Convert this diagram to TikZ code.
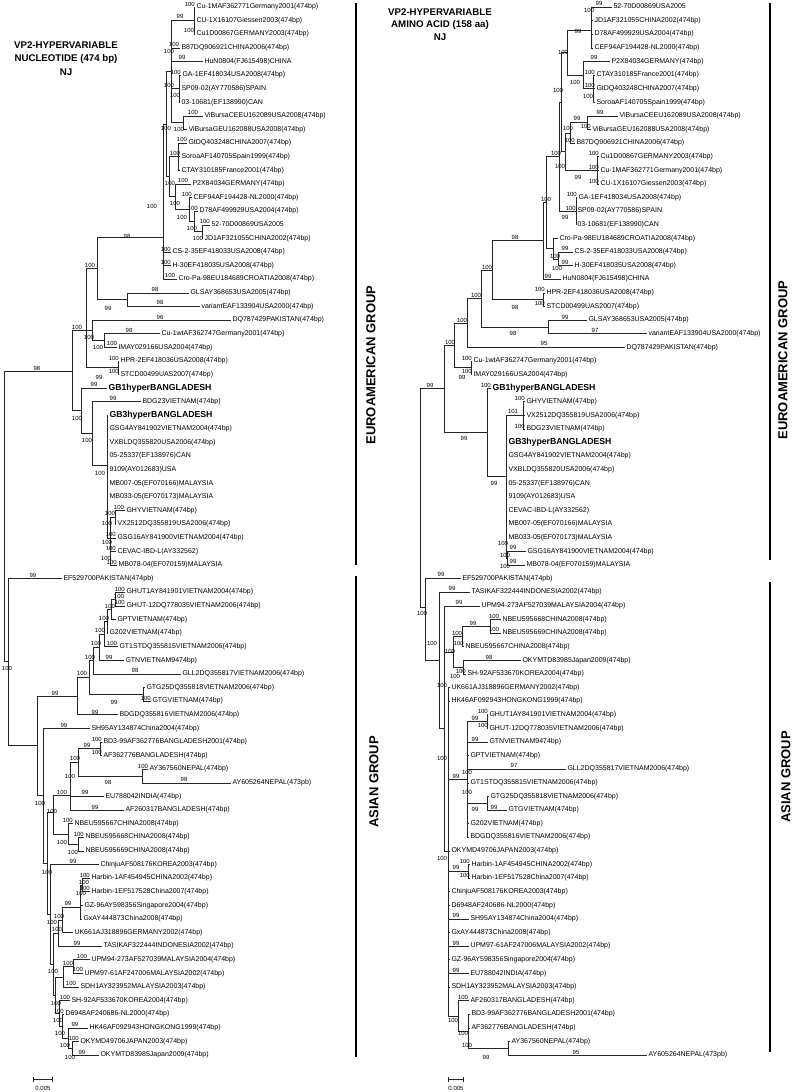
\documentclass[tikz,border=0pt]{standalone}
\usepackage{fontspec}
\setmainfont{Liberation Sans}
\newcounter{bsc}
\newcommand\tleaf[4]{\node[lf] (#1) at (#2,#3) {#4};}
\newcommand\tleafb[4]{\node[lfb] (#1) at (#2,#3) {#4};}
\newcommand\tcoord[3]{\coordinate (#1) at (#2,#3);}
\newcommand\tedge[2]{\foreach \kid in {#2} {\draw[br] (#1) |- (\kid);}}
\newcommand\tboot[3]{\stepcounter{bsc}\node[bs] (bs\arabic{bsc}) at (#1,#2) {#3};}
\newcommand\tbootl[2]{\stepcounter{bsc}\node[bs, anchor=south east] (bs\arabic{bsc}) at ([yshift=0.6pt]#1.west) {#2};}
\tikzset{
 br/.style={draw=black!85, line width=0.55pt},
 lf/.style={anchor=west, inner xsep=1.3pt, inner ysep=0pt, font=\fontsize{7}{8}\selectfont, text height=5pt, text depth=1.5pt},
 lfb/.style={lf, font=\fontsize{8.7}{10}\bfseries\selectfont, text height=6.3pt, text depth=1.8pt},
 bs/.style={inner sep=0pt, font=\fontsize{6}{7}\selectfont},
 grp/.style={rotate=90, inner sep=0pt, font=\fontsize{13}{15}\bfseries\selectfont},
 ttl/.style={align=center, inner sep=0pt, font=\fontsize{9.7}{13.5}\bfseries\selectfont},
 ttlb/.style={align=center, inner sep=0pt, font=\fontsize{9.7}{12.4}\bfseries\selectfont},
 gbar/.style={line width=1.3pt, black},
}
\begin{document}
\begin{tikzpicture}[x=1pt,y=-1pt]
\fill[white] (0,0) rectangle (794,1092);
\useasboundingbox (0,0) rectangle (794,1092);
% ---------------- titles ----------------
\node[ttl] (t1) at (66,58.5) {VP2-HYPERVARIABLE\\NUCLEOTIDE (474 bp)\\NJ};
\node[ttlb] (t2) at (440,24.5) {VP2-HYPERVARIABLE\\AMINO ACID (158 aa)\\NJ};
% ---------------- group labels and bars ----------------
\node[grp] (g1) at (371,365) {EUROAMERICAN GROUP};
\node[grp] (g2) at (374,782) {ASIAN GROUP};
\node[grp] (g3) at (783,360) {EUROAMERICAN GROUP};
\node[grp] (g4) at (786,777) {ASIAN GROUP};
\draw[gbar] (356,3) -- (356,565);
\draw[gbar] (356,576) -- (356,1057);
\draw[gbar] (770,3) -- (770,560);
\draw[gbar] (770,582) -- (770,1052);
% ---------------- scale bars ----------------
\coordinate (sa1) at (33,1079); \coordinate (sa2) at (52,1079);
\draw[br] (sa1) -- (sa2);
\draw[br] ([yshift=-2.5pt]sa1) -- ([yshift=2.5pt]sa1);
\draw[br] ([yshift=-2.5pt]sa2) -- ([yshift=2.5pt]sa2);
\node[bs] (sl1) at (43,1088.5) {0.005};
\coordinate (sb1) at (448,1079); \coordinate (sb2) at (463,1079);
\draw[br] (sb1) -- (sb2);
\draw[br] ([yshift=-2.5pt]sb1) -- ([yshift=2.5pt]sb1);
\draw[br] ([yshift=-2.5pt]sb2) -- ([yshift=2.5pt]sb2);
\node[bs] (sl2) at (456,1088.5) {0.005};
% ================= LEFT TREE: leaves =================
\tleaf{L1}{195}{7.0}{Cu-1MAF362771Germany2001(474bp)}
\tleaf{L2}{195}{20.6}{CU-1X16107Giessen2003(474bp)}
\tleaf{L3}{195}{34.2}{Cu1D00867GERMANY2003(474bp)}
\tleaf{L4}{180}{47.8}{B87DQ906921CHINA2006(474bp)}
\tleaf{L5}{203}{61.4}{HuN0804(FJ615498)CHINA}
\tleaf{L6}{181}{75.1}{GA-1EF418034USA2008(474bp)}
\tleaf{L7}{180}{88.7}{SP09-02(AY770586)SPAIN}
\tleaf{L8}{180}{102.3}{03-10681(EF138990)CAN}
\tleaf{L9}{203}{115.9}{ViBursaCEEU162089USA2008(474bp)}
\tleaf{L10}{187}{129.5}{ViBursaGEU162088USA2008(474bp)}
\tleaf{L11}{187}{143.1}{GtDQ403248CHINA2007(474bp)}
\tleaf{L12}{180}{156.7}{SoroaAF140705Spain1999(474bp)}
\tleaf{L13}{180}{170.3}{CTAY310185France2001(474bp)}
\tleaf{L14}{191}{183.9}{P2X84034GERMANY(474bp)}
\tleaf{L15}{192}{197.5}{CEF94AF194428-NL2000(474bp)}
\tleaf{L16}{198}{211.2}{D78AF499929USA2004(474bp)}
\tleaf{L17}{210}{224.8}{52-70D00869USA2005}
\tleaf{L18}{203}{238.4}{JD1AF321055CHINA2002(474bp)}
\tleaf{L19}{171}{252.0}{CS-2-35EF418033USA2008(474bp)}
\tleaf{L20}{171}{265.6}{H-30EF418035USA2008(474bp)}
\tleaf{L21}{177}{279.2}{Cro-Pa-98EU184689CROATIA2008(474bp)}
\tleaf{L22}{189}{292.8}{GLSAY368653USA2005(474bp)}
\tleaf{L23}{200}{306.4}{variantEAF133904USA2000(474bp)}
\tleaf{L24}{231}{320.0}{DQ787429PAKISTAN(474bp)}
\tleaf{L25}{160}{333.6}{Cu-1wtAF362747Germany2001(474bp)}
\tleaf{L26}{117}{347.3}{IMAY029166USA2004(474bp)}
\tleaf{L27}{119}{360.9}{HPR-2EF418036USA2008(474bp)}
\tleaf{L28}{119}{374.5}{STCD00499UAS2007(474bp)}
\tleafb{L29}{107}{388.1}{GB1hyperBANGLADESH}
\tleaf{L30}{141}{401.7}{BDG23VIETNAM(474bp)}
\tleafb{L31}{108}{415.3}{GB3hyperBANGLADESH}
\tleaf{L32}{108}{428.9}{GSG4AY841902VIETNAM2004(474bp)}
\tleaf{L33}{108}{442.5}{VXBLDQ355820USA2006(474bp)}
\tleaf{L34}{108}{456.1}{05-25337(EF138976)CAN}
\tleaf{L35}{108}{469.7}{9109(AY012683)USA}
\tleaf{L36}{108}{483.4}{MB007-05(EF070166)MALAYSIA}
\tleaf{L37}{108}{497.0}{MB033-05(EF070173)MALAYSIA}
\tleaf{L38}{125}{510.6}{GHYVIETNAM(474bp)}
\tleaf{L39}{116}{524.2}{VX2512DQ355819USA2006(474bp)}
\tleaf{L40}{116}{537.8}{GSG16AY841900VIETNAM2004(474bp)}
\tleaf{L41}{116}{551.4}{CEVAC-IBD-L(AY332562)}
\tleaf{L42}{117}{565.0}{MB078-04(EF070159)MALAYSIA}
\tleaf{L43}{62}{578.6}{EF529700PAKISTAN(474pb)}
\tleaf{L44}{125}{592.2}{GHUT1AY841901VIETNAM2004(474bp)}
\tleaf{L45}{125}{605.8}{GHUT-12DQ778035VIETNAM2006(474bp)}
\tleaf{L46}{116}{619.5}{GPTVIETNAM(474bp)}
\tleaf{L47}{108}{633.1}{G202VIETNAM(474bp)}
\tleaf{L48}{118}{646.7}{GT1STDQ355815VIETNAM2006(474bp)}
\tleaf{L49}{124}{660.3}{GTNVIETNAM9474bp)}
\tleaf{L50}{181}{673.9}{GLL2DQ355817VIETNAM2006(474bp)}
\tleaf{L51}{145}{687.5}{GTG25DQ355818VIETNAM2006(474bp)}
\tleaf{L52}{151}{701.1}{GTGVIETNAM(474bp)}
\tleaf{L53}{118}{714.7}{BDGDQ355816VIETNAM2006(474bp)}
\tleaf{L54}{90}{728.3}{SH95AY134874China2004(474bp)}
\tleaf{L55}{102}{741.9}{BD3-99AF362776BANGLADESH2001(474bp)}
\tleaf{L56}{102}{755.5}{AF362776BANGLADESH(474bp)}
\tleaf{L57}{148}{769.2}{AY367560NEPAL(474bp)}
\tleaf{L58}{231}{782.8}{AY605264NEPAL(473pb)}
\tleaf{L59}{104}{796.4}{EU788042INDIA(474bp)}
\tleaf{L60}{124}{810.0}{AF260317BANGLADESH(474bp)}
\tleaf{L61}{73}{823.6}{NBEU595667CHINA2008(474bp)}
\tleaf{L62}{84}{837.2}{NBEU595668CHINA2008(474bp)}
\tleaf{L63}{84}{850.8}{NBEU595669CHINA2008(474bp)}
\tleaf{L64}{99}{864.4}{ChinjuAF508176KOREA2003(474bp)}
\tleaf{L65}{90}{878.0}{Harbin-1AF454945CHINA2002(474bp)}
\tleaf{L66}{90}{891.7}{Harbin-1EF517528China2007(474bp)}
\tleaf{L67}{83}{905.3}{GZ-96AY598356Singapore2004(474bp)}
\tleaf{L68}{82}{918.9}{GxAY444873China2008(474bp)}
\tleaf{L69}{73}{932.5}{UK661AJ318896GERMANY2002(474bp)}
\tleaf{L70}{102}{946.1}{TASIKAF322444INDONESIA2002(474bp)}
\tleaf{L71}{90}{959.7}{UPM94-273AF527039MALAYSIA2004(474bp)}
\tleaf{L72}{83}{973.3}{UPM97-61AF247006MALAYSIA2002(474bp)}
\tleaf{L73}{79}{986.9}{SDH1AY323952MALAYSIA2003(474bp)}
\tleaf{L74}{70}{1000.5}{SH-92AF533670KOREA2004(474bp)}
\tleaf{L75}{64}{1014.1}{D6948AF240686-NL2000(474bp)}
\tleaf{L76}{88}{1027.8}{HK46AF092943HONGKONG1999(474bp)}
\tleaf{L77}{79}{1041.4}{OKYMD49706JAPAN2003(474bp)}
\tleaf{L78}{99}{1055.0}{OKYMTD83985Japan2009(474bp)}
% ---------------- left internal nodes ----------------
\tcoord{LR}{4}{517} \tcoord{LE}{72}{371} \tcoord{LA}{8}{661}
\tcoord{Ln86}{86}{330} \tcoord{Ln97}{97}{268} \tcoord{Lmain}{163}{237}
\tcoord{LnX}{166}{124} \tcoord{Ltop}{171}{71.6} \tcoord{Lcu}{194}{20.6}
\tcoord{Lga}{179}{88.7} \tcoord{Lvb}{183}{122.7} \tcoord{LnY}{169}{176.7}
\tcoord{Lgt}{178}{156.7} \tcoord{Lp2x}{175}{196.7} \tcoord{Lcef}{189}{209.5}
\tcoord{Ld78}{194}{221.4} \tcoord{Ln52}{202}{231.6} \tcoord{Ln127}{127}{299.6}
\tcoord{Ln92}{92}{330} \tcoord{Ln104}{104}{340.4} \tcoord{Ln118}{118}{367.7}
\tcoord{Ln81}{81}{410} \tcoord{Ln92b}{92}{433} \tcoord{Ln107}{107}{465}
\tcoord{Ln110}{110}{538} \tcoord{Lghy}{115}{517.4}
\tcoord{LP37}{37}{745} \tcoord{LvI}{77}{696} \tcoord{LvH}{89}{677.4}
\tcoord{LvF}{93}{660.5} \tcoord{LvE}{99}{647} \tcoord{LvD}{104}{634}
\tcoord{LvC}{107}{621.2} \tcoord{LvB}{111}{609.4} \tcoord{LvA}{115}{599}
\tcoord{LvG}{143}{694.3} \tcoord{LP43}{43}{795} \tcoord{Ln47}{47}{863}
\tcoord{LnNB}{53}{812} \tcoord{Ln70}{70}{795} \tcoord{Ln78}{78}{762}
\tcoord{Lnbd}{100}{748.7} \tcoord{Lnay}{142}{776} \tcoord{Ln68}{68}{834}
\tcoord{Lnnb2}{78}{844} \tcoord{LnChin}{50}{914} \tcoord{LnmidA}{53}{964}
\tcoord{Lntas}{58}{933} \tcoord{Lnuk}{62}{920} \tcoord{Lnharb}{80}{907}
\tcoord{Lnh}{82}{884.8} \tcoord{LnlowA}{55}{995} \tcoord{Lnupm}{63}{977}
\tcoord{Lnupm94}{73}{966.5} \tcoord{Lnsh92}{59}{1013} \tcoord{Lnd69}{62}{1026}
\tcoord{Lnhk}{68}{1038} \tcoord{Lnok}{72}{1048.2}
% ---------------- left edges ----------------
\tedge{LR}{LE,LA}
\tedge{LE}{Ln86,Ln81}
\tedge{Ln86}{Ln97,Ln92,Ln118}
\tedge{Ln97}{Lmain,Ln127}
\tedge{Lmain}{LnX,L19,L20,L21}
\tedge{LnX}{Ltop,LnY}
\tedge{Ltop}{Lcu,L4,L5,Lga,Lvb}
\tedge{Lcu}{L1,L2,L3}
\tedge{Lga}{L6,L7,L8}
\tedge{Lvb}{L9,L10}
\tedge{LnY}{Lgt,Lp2x}
\tedge{Lgt}{L11,L12,L13}
\tedge{Lp2x}{L14,Lcef}
\tedge{Lcef}{L15,Ld78}
\tedge{Ld78}{L16,Ln52}
\tedge{Ln52}{L17,L18}
\tedge{Ln127}{L22,L23}
\tedge{Ln92}{L24,Ln104}
\tedge{Ln104}{L25,L26}
\tedge{Ln118}{L27,L28}
\tedge{Ln81}{L29,Ln92b}
\tedge{Ln92b}{L30,Ln107}
\tedge{Ln107}{L31,L32,L33,L34,L35,L36,L37,Ln110}
\tedge{Ln110}{Lghy,L40,L41,L42}
\tedge{Lghy}{L38,L39}
\tedge{LA}{L43,LP37}
\tedge{LP37}{LvI,LP43}
\tedge{LvI}{LvH,L53}
\tedge{LvH}{LvF,LvG}
\tedge{LvF}{LvE,L50}
\tedge{LvE}{LvD,L49}
\tedge{LvD}{LvC,L48}
\tedge{LvC}{LvB,L47}
\tedge{LvB}{LvA,L46}
\tedge{LvA}{L44,L45}
\tedge{LvG}{L51,L52}
\tedge{LP43}{L54,Ln47}
\tedge{Ln47}{LnNB,LnChin}
\tedge{LnNB}{Ln70,Ln68}
\tedge{Ln70}{Ln78,L59,L60}
\tedge{Ln78}{Lnbd,Lnay}
\tedge{Lnbd}{L55,L56}
\tedge{Lnay}{L57,L58}
\tedge{Ln68}{L61,Lnnb2}
\tedge{Lnnb2}{L62,L63}
\tedge{LnChin}{L64,LnmidA}
\tedge{LnmidA}{Lntas,LnlowA}
\tedge{Lntas}{Lnuk,L70}
\tedge{Lnuk}{Lnharb,L69}
\tedge{Lnharb}{Lnh,L67,L68}
\tedge{Lnh}{L65,L66}
\tedge{LnlowA}{Lnupm,Lnsh92}
\tedge{Lnupm}{Lnupm94,L73}
\tedge{Lnupm94}{L71,L72}
\tedge{Lnsh92}{L74,Lnd69}
\tedge{Lnd69}{L75,Lnhk}
\tedge{Lnhk}{L76,Lnok}
\tedge{Lnok}{L77,L78}
% ---------------- left bootstrap values ----------------
\tbootl{L1}{100} \tboot{180}{16}{99} \tboot{189}{30}{100} \tboot{174}{44}{100}
\tboot{169}{51}{100} \tboot{182}{57}{99} \tbootl{L6}{100} \tboot{169}{85}{100}
\tboot{175}{95}{100} \tboot{193}{112}{100} \tboot{166}{128}{100} \tboot{179}{129}{100}
\tboot{182}{139}{100} \tboot{175}{153}{100} \tboot{170}{183}{100} \tboot{183}{180}{100}
\tbootl{L15}{100} \tboot{175}{203}{100} \tbootl{L16}{100} \tboot{182}{217}{100}
\tbootl{L17}{100} \tboot{192}{228}{100} \tboot{198}{238}{100} \tboot{152}{206}{100}
\tbootl{L19}{100} \tbootl{L20}{100} \tboot{170}{275}{100} \tboot{127}{236}{98}
\tboot{155}{289}{98} \tboot{160}{302}{98} \tboot{108}{308}{99} \tboot{90}{265}{100}
\tboot{160}{317}{96} \tboot{129}{330}{98} \tboot{77}{327}{100} \tboot{89}{337}{100}
\tboot{112}{343}{100} \tboot{98}{347}{100} \tbootl{L27}{100} \tbootl{L28}{100}
\tboot{99}{377}{99} \tboot{37}{368}{98} \tboot{94}{384}{99} \tboot{113}{398}{99}
\tboot{77}{418}{100} \tboot{87}{440}{100} \tboot{100}{473}{100} \tboot{119}{507}{100}
\tboot{110}{513}{100} \tboot{107}{523}{100} \tbootl{L40}{100} \tboot{107}{542}{100}
\tbootl{L41}{100} \tboot{106}{558}{100} \tbootl{L42}{100} \tboot{33}{575}{99}
\tboot{7}{668}{100} \tbootl{L44}{100} \tboot{119}{596}{100} \tbootl{L45}{100}
\tboot{110}{606}{100} \tboot{104}{618}{100} \tboot{100}{630}{100} \tboot{96}{643}{100}
\tboot{112}{643}{100} \tboot{90}{657}{100} \tboot{109}{657}{99} \tboot{82}{673}{100}
\tboot{135}{670}{98} \tbootl{L52}{100} \tboot{114}{702}{99} \tboot{55}{693}{99}
\tboot{95}{712}{99} \tboot{64}{725}{99} \tbootl{L55}{100} \tboot{87}{745}{99}
\tbootl{L56}{100} \tboot{75}{758}{100} \tboot{143}{766}{100} \tboot{70}{776}{100}
\tboot{108}{782}{98} \tboot{184}{779}{98} \tboot{62}{792}{100} \tboot{85}{792}{99}
\tboot{40}{803}{100} \tboot{52}{811}{100} \tboot{95}{807}{99} \tbootl{L61}{100}
\tbootl{L62}{100} \tboot{62}{842}{100} \tboot{73}{852}{100} \tboot{73}{861}{99}
\tboot{47}{872}{100} \tbootl{L65}{100} \tboot{84}{882}{100} \tboot{81}{893}{100}
\tbootl{L66}{100} \tboot{68}{903}{99} \tboot{59}{916}{100} \tboot{52}{922}{100}
\tboot{57}{929}{100} \tboot{77}{943}{99} \tboot{82}{956}{100} \tboot{68}{963}{100}
\tboot{53}{971}{100} \tboot{78}{969}{100} \tboot{71}{983}{100} \tboot{65}{997}{100}
\tboot{56}{1003}{100} \tbootl{L75}{100} \tboot{58}{1020}{100} \tboot{75}{1024}{99}
\tboot{60}{1033}{100} \tbootl{L77}{100} \tboot{65}{1045}{100} \tboot{82}{1052}{99}
\tboot{70}{1057}{100}
% ================= RIGHT TREE: leaves =================
\tleaf{R1}{612}{7.0}{52-70D00869USA2005}
\tleaf{R2}{593}{20.6}{JD1AF321055CHINA2002(474bp)}
\tleaf{R3}{593}{34.2}{D78AF499929USA2004(474bp)}
\tleaf{R4}{593}{47.8}{CEF94AF194428-NL2000(474bp)}
\tleaf{R5}{610}{61.4}{P2X84034GERMANY(474bp)}
\tleaf{R6}{595}{75.1}{CTAY310185France2001(474bp)}
\tleaf{R7}{595}{88.7}{GtDQ403248CHINA2007(474bp)}
\tleaf{R8}{595}{102.3}{SoroaAF140705Spain1999(474bp)}
\tleaf{R9}{618}{115.9}{ViBursaCEEU162089USA2008(474bp)}
\tleaf{R10}{591}{129.5}{ViBursaGEU162088USA2008(474bp)}
\tleaf{R11}{575}{143.1}{B87DQ906921CHINA2006(474bp)}
\tleaf{R12}{599}{156.7}{Cu1D00867GERMANY2003(474bp)}
\tleaf{R13}{599}{170.3}{Cu-1MAF362771Germany2001(474bp)}
\tleaf{R14}{599}{183.9}{CU-1X16107Giessen2003(474bp)}
\tleaf{R15}{577}{197.5}{GA-1EF418034USA2008(474bp)}
\tleaf{R16}{576}{211.2}{SP09-02(AY770586)SPAIN}
\tleaf{R17}{576}{224.8}{03-10681(EF138990)CAN}
\tleaf{R18}{558}{238.4}{Cro-Pa-98EU184689CROATIA2008(474bp)}
\tleaf{R19}{573}{252.0}{CS-2-35EF418033USA2008(474bp)}
\tleaf{R20}{573}{265.6}{H-30EF418035USA2008(474bp)}
\tleaf{R21}{561}{279.2}{HuN0804(FJ615498)CHINA}
\tleaf{R22}{545}{292.8}{HPR-2EF418036USA2008(474bp)}
\tleaf{R23}{545}{306.4}{STCD00499UAS2007(474bp)}
\tleaf{R24}{587}{320.0}{GLSAY368653USA2005(474bp)}
\tleaf{R25}{647}{333.6}{variantEAF133904USA2000(474bp)}
\tleaf{R26}{625}{347.3}{DQ787429PAKISTAN(474bp)}
\tleaf{R27}{472}{360.9}{Cu-1wtAF362747Germany2001(474bp)}
\tleaf{R28}{472}{374.5}{IMAY029166USA2004(474bp)}
\tleafb{R29}{491}{388.1}{GB1hyperBANGLADESH}
\tleaf{R30}{525}{401.7}{GHYVIETNAM(474bp)}
\tleaf{R31}{525}{415.3}{VX2512DQ355819USA2006(474bp)}
\tleaf{R32}{525}{428.9}{BDG23VIETNAM(474bp)}
\tleafb{R33}{507}{442.5}{GB3hyperBANGLADESH}
\tleaf{R34}{507}{456.1}{GSG4AY841902VIETNAM2004(474bp)}
\tleaf{R35}{507}{469.7}{VXBLDQ355820USA2006(474bp)}
\tleaf{R36}{507}{483.4}{05-25337(EF138976)CAN}
\tleaf{R37}{507}{497.0}{9109(AY012683)USA}
\tleaf{R38}{507}{510.6}{CEVAC-IBD-L(AY332562)}
\tleaf{R39}{507}{524.2}{MB007-05(EF070166)MALAYSIA}
\tleaf{R40}{507}{537.8}{MB033-05(EF070173)MALAYSIA}
\tleaf{R41}{526}{551.4}{GSG16AY841900VIETNAM2004(474bp)}
\tleaf{R42}{525}{565.0}{MB078-04(EF070159)MALAYSIA}
\tleaf{R43}{461}{578.6}{EF529700PAKISTAN(474pb)}
\tleaf{R44}{470}{592.2}{TASIKAF322444INDONESIA2002(474bp)}
\tleaf{R45}{480}{605.8}{UPM94-273AF527039MALAYSIA2004(474bp)}
\tleaf{R46}{501}{619.5}{NBEU595668CHINA2008(474bp)}
\tleaf{R47}{501}{633.1}{NBEU595669CHINA2008(474bp)}
\tleaf{R48}{464}{646.7}{NBEU595667CHINA2008(474bp)}
\tleaf{R49}{521}{660.3}{OKYMTD83985Japan2009(474bp)}
\tleaf{R50}{466}{673.9}{SH-92AF533670KOREA2004(474bp)}
\tleaf{R51}{450}{687.5}{UK661AJ318896GERMANY2002(474bp)}
\tleaf{R52}{450}{701.1}{HK46AF092943HONGKONG1999(474bp)}
\tleaf{R53}{488}{714.7}{GHUT1AY841901VIETNAM2004(474bp)}
\tleaf{R54}{488}{728.3}{GHUT-12DQ778035VIETNAM2006(474bp)}
\tleaf{R55}{488}{741.9}{GTNVIETNAM9474bp)}
\tleaf{R56}{469}{755.5}{GPTVIETNAM(474bp)}
\tleaf{R57}{566}{769.2}{GLL2DQ355817VIETNAM2006(474bp)}
\tleaf{R58}{469}{782.8}{GT1STDQ355815VIETNAM2006(474bp)}
\tleaf{R59}{489}{796.4}{GTG25DQ355818VIETNAM2006(474bp)}
\tleaf{R60}{507}{810.0}{GTGVIETNAM(474bp)}
\tleaf{R61}{469}{823.6}{G202VIETNAM(474bp)}
\tleaf{R62}{469}{837.2}{BDGDQ355816VIETNAM2006(474bp)}
\tleaf{R63}{450}{850.8}{OKYMD49706JAPAN2003(474bp)}
\tleaf{R64}{470}{864.4}{Harbin-1AF454945CHINA2002(474bp)}
\tleaf{R65}{470}{878.0}{Harbin-1EF517528China2007(474bp)}
\tleaf{R66}{450}{891.7}{ChinjuAF508176KOREA2003(474bp)}
\tleaf{R67}{450}{905.3}{D6948AF240686-NL2000(474bp)}
\tleaf{R68}{469}{918.9}{SH95AY134874China2004(474bp)}
\tleaf{R69}{450}{932.5}{GxAY444873China2008(474bp)}
\tleaf{R70}{469}{946.1}{UPM97-61AF247006MALAYSIA2002(474bp)}
\tleaf{R71}{450}{959.7}{GZ-96AY598356Singapore2004(474bp)}
\tleaf{R72}{469}{973.3}{EU788042INDIA(474bp)}
\tleaf{R73}{450}{986.9}{SDH1AY323952MALAYSIA2003(474bp)}
\tleaf{R74}{469}{1000.5}{AF260317BANGLADESH(474bp)}
\tleaf{R75}{470}{1014.1}{BD3-99AF362776BANGLADESH2001(474bp)}
\tleaf{R76}{470}{1027.8}{AF362776BANGLADESH(474bp)}
\tleaf{R77}{510}{1041.4}{AY367560NEPAL(474bp)}
\tleaf{R78}{647}{1055.0}{AY605264NEPAL(473pb)}
% ---------------- right internal nodes ----------------
\tcoord{RR}{420}{504} \tcoord{Rn13}{444}{388.6} \tcoord{Rn12}{454}{345.3}
\tcoord{Rn11}{467}{322.8} \tcoord{Rn10}{481}{298.4} \tcoord{Rn9}{492}{270}
\tcoord{Rn8}{543}{240.6} \tcoord{Rn7}{546}{202} \tcoord{Rn6}{559}{156}
\tcoord{Rn6a}{561}{102} \tcoord{Rn3}{567}{52} \tcoord{Rn1}{591}{30}
\tcoord{Rn2}{583}{75} \tcoord{Rct}{593}{88.7} \tcoord{Rn5}{565}{151.6}
\tcoord{Rn4}{570}{133} \tcoord{Rvb}{587}{122.7} \tcoord{Rcu}{597}{170.3}
\tcoord{Rga}{576}{211.2} \tcoord{Rcro}{553}{248.6} \tcoord{Rcs}{558}{258.8}
\tcoord{Rhpr}{543}{299.6} \tcoord{Rgl}{548}{326.8} \tcoord{Rcw}{471}{367.7}
\tcoord{Rgb}{487}{432} \tcoord{Rm}{506}{476} \tcoord{Rghy}{523}{415.3}
\tcoord{Rgsg}{507}{558.2} \tcoord{RnA}{425}{607} \tcoord{RnB}{439}{660.5}
\tcoord{RnC}{444}{728.7} \tcoord{Rnb3}{453}{651.8} \tcoord{Rnb2}{462}{636.5}
\tcoord{Rnb}{490}{626.3} \tcoord{Rok}{463}{667.1} \tcoord{Rbig}{448}{851.6}
\tcoord{Rviet}{467}{779.4} \tcoord{Rghut}{487}{721.5} \tcoord{Rgtg}{487}{803.2}
\tcoord{Rharb}{468}{871.2} \tcoord{Raf}{458}{1015.8} \tcoord{Rbd}{468}{1031}
\tcoord{Ray}{508}{1048.2}
% ---------------- right edges ----------------
\tedge{RR}{Rn13,RnA}
\tedge{Rn13}{Rn12,Rgb}
\tedge{Rn12}{Rn11,Rcw}
\tedge{Rn11}{Rn10,R26}
\tedge{Rn10}{Rn9,Rgl}
\tedge{Rgl}{R24,R25}
\tedge{Rn9}{Rn8,Rhpr}
\tedge{Rhpr}{R22,R23}
\tedge{Rn8}{Rn7,R21}
\tedge{Rn7}{Rn6,Rcro}
\tedge{Rcro}{R18,Rcs}
\tedge{Rcs}{R19,R20}
\tedge{Rn6}{Rn6a,Rga}
\tedge{Rga}{R15,R16,R17}
\tedge{Rn6a}{Rn3,Rn5}
\tedge{Rn3}{Rn1,Rn2}
\tedge{Rn1}{R1,R2,R3,R4}
\tedge{Rn2}{R5,Rct}
\tedge{Rct}{R6,R7,R8}
\tedge{Rn5}{Rn4,Rcu}
\tedge{Rn4}{Rvb,R11}
\tedge{Rvb}{R9,R10}
\tedge{Rcu}{R12,R13,R14}
\tedge{Rcw}{R27,R28}
\tedge{Rgb}{R29,Rm}
\tedge{Rm}{Rghy,R33,R34,R35,R36,R37,R38,R39,R40,Rgsg}
\tedge{Rghy}{R30,R31,R32}
\tedge{Rgsg}{R41,R42}
\tedge{RnA}{R43,RnB}
\tedge{RnB}{R44,RnC}
\tedge{RnC}{R45,Rnb3,Rbig}
\tedge{Rnb3}{Rnb2,Rok}
\tedge{Rnb2}{Rnb,R48}
\tedge{Rnb}{R46,R47}
\tedge{Rok}{R49,R50}
\tedge{Rbig}{R51,R52,Rviet,R63,Rharb,R66,R67,R68,R69,R70,R71,R72,R73,Raf}
\tedge{Rviet}{Rghut,R55,R56,R57,R58,Rgtg,R61,R62}
\tedge{Rghut}{R53,R54}
\tedge{Rgtg}{R59,R60}
\tedge{Rharb}{R64,R65}
\tedge{Raf}{R74,Rbd}
\tedge{Rbd}{R75,R76,Ray}
\tedge{Ray}{R77,R78}
% ---------------- right bootstrap values ----------------
\tboot{599}{3}{99} \tboot{589}{10}{100} \tboot{578}{31}{99} \tboot{563}{52}{100}
\tboot{594}{57}{99} \tbootl{R6}{100} \tboot{575}{82}{100} \tbootl{R7}{100}
\tboot{588}{96}{100} \tboot{558}{90}{100} \tboot{600}{112}{99} \tboot{577}{118}{99}
\tbootl{R10}{100} \tboot{568}{128}{100} \tbootl{R11}{100} \tboot{556}{153}{100}
\tbootl{R12}{100} \tboot{560}{166}{100} \tbootl{R13}{100} \tboot{578}{177}{99}
\tbootl{R14}{100} \tbootl{R15}{100} \tboot{546}{199}{100} \tbootl{R16}{100}
\tboot{565}{217}{99} \tboot{515}{237}{98} \tboot{565}{248}{99} \tboot{555}{256}{100}
\tboot{565}{262}{99} \tboot{557}{268}{100} \tboot{487}{267}{100} \tboot{548}{276}{99}
\tboot{476}{295}{100} \tbootl{R22}{100} \tboot{515}{307}{98} \tbootl{R23}{100}
\tboot{462}{320}{100} \tboot{565}{317}{99} \tboot{513}{333}{98} \tboot{595}{330}{97}
\tboot{450}{342}{100} \tboot{544}{343}{95} \tbootl{R27}{100} \tbootl{R28}{100}
\tboot{462}{377}{99} \tboot{430}{385}{99} \tbootl{R29}{100} \tbootl{R30}{100}
\tboot{513}{411}{101} \tbootl{R32}{100} \tboot{464}{438}{99} \tboot{494}{483}{99}
\tboot{503}{543}{100} \tboot{513}{547}{99} \tboot{505}{555}{100} \tboot{513}{561}{99}
\tboot{505}{566}{100} \tboot{441}{574}{99} \tboot{452}{588}{99} \tboot{459}{602}{99}
\tboot{422}{613}{100} \tboot{494}{616}{100} \tboot{473}{623}{99} \tboot{457}{633}{100}
\tboot{494}{629}{100} \tboot{432}{643}{100} \tbootl{R48}{100} \tboot{450}{651}{100}
\tboot{489}{657}{98} \tbootl{R50}{100} \tboot{455}{676}{100} \tboot{442}{685}{100}
\tboot{475}{718}{99} \tbootl{R53}{100} \tbootl{R54}{100} \tboot{475}{739}{99}
\tboot{442}{758}{100} \tboot{514}{765}{97} \tboot{456}{776}{99} \tboot{467}{772}{100}
\tboot{467}{792}{100} \tboot{494}{807}{99} \tboot{475}{809}{99} \tboot{442}{858}{100}
\tbootl{R64}{100} \tboot{456}{867}{99} \tbootl{R65}{100} \tboot{456}{915}{99}
\tboot{456}{943}{99} \tboot{456}{970}{99} \tboot{463}{997}{100} \tboot{453}{1020}{100}
\tboot{463}{1033}{100} \tboot{467}{1045}{100} \tboot{576}{1052}{95} \tboot{486}{1057}{99}
\end{tikzpicture}
\end{document}
